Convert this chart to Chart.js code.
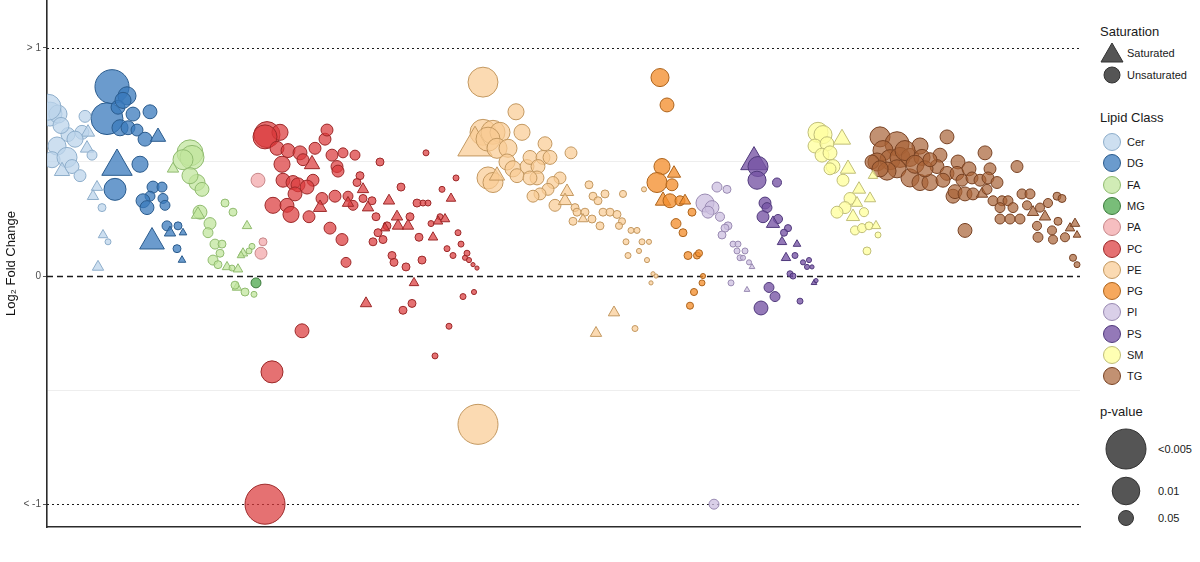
<!DOCTYPE html>
<html>
<head>
<meta charset="utf-8">
<script src="https://cdn.jsdelivr.net/npm/chart.js@4.4.1/dist/chart.umd.min.js"></script>
<style>
  html, body { margin: 0; padding: 0; background: #fff; }
  body { width: 1200px; height: 562px; position: relative; overflow: hidden; font-family: "Liberation Sans", Arial, sans-serif; color: #1a1a1a; }
  #wrap { position: absolute; left: 0; top: 0; width: 1090px; height: 562px; }
  #legend { position: absolute; left: 1090px; top: 0; width: 110px; height: 562px; }
  .lg-title { position: absolute; left: 10px; font-size: 13px; line-height: 16px; }
  .lg-item { position: absolute; left: 10px; height: 24px; display: flex; align-items: center; font-size: 11px; }
  .lg-item svg { display: block; }
</style>
</head>
<body>
<div id="wrap"><canvas id="lipidChart" width="1090" height="562"></canvas></div>
<div id="legend"></div>
<script>
// x = lipid position along the plot, y = log2 fold change, sig = -log10(p), sat = 1 for saturated
const classes = ["Cer", "DG", "FA", "MG", "PA", "PC", "PE", "PG", "PI", "PS", "SM", "TG"];

const cerX = [3, 11, 38, 21, 35, 41, 10, 5, 20, 25, 33, 15, 40, 45, 50, 46, 55, 56, 61, 51, 1, 28, 14];
const cerY = [0.71, 0.71, 0.70, 0.62, 0.63, 0.63, 0.57, 0.51, 0.52, 0.48, 0.44, 0.46, 0.56, 0.53, 0.39, 0.35, 0.30, 0.18, 0.15, 0.04, 0.74, 0.60, 0.66];
const cerSig = [1.8, 1.47, 1.13, 1.24, 1.24, 1.24, 1.47, 1.36, 1.58, 1.24, 1.13, 1.36, 1.24, 1.02, 1.13, 1.13, 0.91, 1.02, 0.8, 1.13, 1.91, 1.36, 1.36];
const cerSat = [0, 0, 0, 0, 0, 1, 0, 0, 0, 0, 0, 1, 1, 0, 1, 1, 0, 1, 0, 1, 0, 0, 0];

const dgX = [65, 60, 80, 71, 86, 103, 73, 81, 90, 98, 111, 70, 93, 68, 106, 115, 103, 96, 100, 116, 118, 120, 131, 123, 136, 105, 130, 135, 76];
const dgY = [0.83, 0.69, 0.79, 0.74, 0.71, 0.72, 0.65, 0.65, 0.64, 0.60, 0.61, 0.48, 0.49, 0.38, 0.39, 0.39, 0.35, 0.33, 0.30, 0.34, 0.31, 0.22, 0.22, 0.19, 0.19, 0.15, 0.12, 0.07, 0.77];
const dgSig = [2.36, 2.24, 1.47, 1.24, 1.24, 1.24, 1.36, 1.24, 1.13, 1.24, 1.36, 2.24, 1.36, 1.69, 1.13, 1.02, 1.02, 1.24, 1.24, 1.02, 1.02, 1.02, 0.91, 1.13, 0.91, 1.91, 0.91, 0.91, 1.36];
const dgSat = [0, 0, 0, 0, 0, 0, 0, 0, 0, 0, 1, 1, 0, 0, 0, 0, 0, 0, 0, 0, 0, 0, 0, 1, 1, 1, 0, 1, 0];

const faX = [143, 145, 136, 150, 155, 143, 126, 153, 151, 163, 161, 178, 186, 168, 175, 173, 166, 171, 180, 185, 191, 200, 196, 190, 198, 205, 202, 207, 194, 188];
const faY = [0.54, 0.52, 0.51, 0.41, 0.38, 0.44, 0.47, 0.28, 0.27, 0.23, 0.19, 0.32, 0.28, 0.14, 0.14, 0.10, 0.07, 0.05, 0.04, 0.035, 0.03, 0.22, 0.10, -0.05, -0.07, 0.13, 0.11, -0.08, 0.09, -0.04];
const faSig = [1.91, 1.8, 1.58, 1.36, 1.24, 1.36, 1.13, 1.24, 1.24, 1.13, 1.02, 0.91, 0.91, 1.02, 0.91, 0.91, 1.02, 0.91, 1.02, 0.8, 1.02, 1.02, 1.02, 1.02, 0.91, 0.8, 0.8, 0.8, 0.91, 0.91];
const faSat = [0, 0, 0, 0, 0, 0, 1, 0, 1, 0, 0, 0, 0, 0, 0, 0, 0, 0, 1, 0, 1, 1, 1, 1, 0, 0, 0, 0, 1, 0];

const mgX = [209];
const mgY = [-0.03];
const mgSig = [1.02];
const mgSat = [0];

const paX = [211, 216, 214];
const paY = [0.42, 0.15, 0.10];
const paSig = [1.24, 0.91, 1.13];
const paSat = [0, 0, 0];

const pcX = [220, 233, 218, 230, 241, 253, 265, 256, 235, 268,
  278, 280, 285, 296, 308, 290, 291, 236, 246, 251,
  266, 260, 248, 226, 240, 244, 262, 275, 273, 288,
  301, 306, 301, 313, 310, 316, 316, 325, 321, 329,
  333, 283, 295, 299, 342, 354, 370, 376, 381, 363,
  350, 351, 361, 340, 338, 331, 326, 336, 345, 347,
  359, 372, 375, 386, 384, 393, 398, 391, 404, 395,
  409, 379, 411, 414, 400, 406, 420, 418, 422, 426,
  430, 367, 319, 365, 356, 416, 427, 402, 388, 255,
  225, 218];
const pcY = [0.62, 0.63, 0.61, 0.56, 0.55, 0.54, 0.49, 0.51, 0.49, 0.56,
  0.60, 0.64, 0.53, 0.54, 0.53, 0.48, 0.46, 0.42, 0.41, 0.40,
  0.42, 0.39, 0.36, 0.31, 0.31, 0.27, 0.26, 0.34, 0.30, 0.35,
  0.35, 0.31, 0.32, 0.44, 0.41, 0.38, 0.34, 0.33, 0.30, 0.26,
  0.50, 0.21, 0.16, 0.06, 0.33, 0.39, 0.32, 0.32, 0.32, 0.26,
  0.26, 0.22, 0.22, 0.22, 0.21, 0.19, 0.15, 0.16, 0.09, 0.06,
  0.04, 0.17, 0.07, 0.17, 0.23, 0.26, 0.25, 0.24, 0.34, 0.38,
  0.43, 0.54, 0.19, 0.14, 0.12, 0.09, 0.10, 0.08, 0.07, 0.05,
  0.035, -0.03, -0.12, -0.12, -0.15, -0.09, -0.07, -0.22, -0.35, -0.24,
  -0.42, -1.0];
const pcSig = [1.91, 1.36, 1.8, 1.24, 1.24, 1.24, 1.36, 1.13, 1.36, 1.13,
  1.13, 1.13, 1.13, 1.02, 1.02, 1.13, 1.13, 1.24, 1.24, 1.24,
  1.13, 1.24, 1.24, 1.36, 1.24, 1.36, 1.13, 1.13, 1.24, 1.13,
  1.02, 1.02, 1.13, 0.91, 0.91, 1.13, 0.91, 0.91, 1.13, 0.91,
  0.91, 1.13, 1.13, 1.02, 1.13, 0.91, 0.91, 0.8, 0.8, 0.91,
  1.13, 1.13, 1.13, 0.91, 1.02, 0.91, 0.91, 0.91, 0.91, 0.91,
  0.91, 0.91, 0.91, 1.02, 0.8, 0.8, 1.02, 1.02, 1.02, 0.8,
  0.8, 0.8, 0.8, 0.8, 0.8, 0.8, 0.8, 0.75, 0.75, 0.7,
  0.7, 1.02, 1.13, 0.91, 0.91, 0.8, 0.75, 0.8, 0.8, 1.24,
  1.69, 2.69];
const pcSat = [0, 0, 0, 0, 0, 0, 1, 0, 0, 0,
  0, 0, 0, 0, 0, 0, 0, 0, 0, 0,
  0, 0, 0, 0, 0, 0, 0, 0, 1, 0,
  0, 0, 1, 0, 0, 1, 0, 0, 1, 0,
  0, 0, 0, 0, 1, 0, 0, 0, 0, 0,
  1, 1, 1, 0, 1, 0, 0, 0, 0, 0,
  0, 0, 0, 1, 0, 0, 1, 1, 1, 0,
  0, 0, 0, 0, 0, 0, 0, 0, 0, 0,
  0, 1, 1, 0, 0, 0, 0, 0, 0, 0,
  0, 0];

const peX = [436, 469, 436, 446, 453, 475, 428, 441, 450, 461,
  460, 466, 470, 480, 483, 498, 496, 503, 491, 490,
  483, 441, 446, 450, 524, 513, 506, 501, 493, 486,
  508, 520, 518, 528, 530, 538, 536, 545, 526, 553,
  542, 546, 551, 558, 556, 563, 570, 575, 572, 576,
  584, 590, 579, 581, 595, 592, 602, 600, 597, 606,
  609, 604, 567, 549, 588, 431];
const peY = [0.85, 0.72, 0.63, 0.63, 0.63, 0.63, 0.57, 0.60, 0.56, 0.56,
  0.50, 0.47, 0.44, 0.48, 0.52, 0.58, 0.52, 0.52, 0.48, 0.43,
  0.43, 0.43, 0.41, 0.44, 0.54, 0.43, 0.41, 0.38, 0.36, 0.35,
  0.31, 0.37, 0.33, 0.30, 0.28, 0.28, 0.25, 0.25, 0.24, 0.22,
  0.40, 0.35, 0.33, 0.36, 0.28, 0.28, 0.27, 0.24, 0.22, 0.36,
  0.20, 0.20, 0.15, 0.09, 0.15, 0.11, 0.15, 0.07, 0.38, 0.01,
  0.0, -0.03, -0.16, -0.25, -0.23, -0.65];
const peSig = [2.13, 1.36, 1.91, 1.8, 1.58, 1.36, 2.47, 1.8, 1.58, 1.47,
  1.36, 1.36, 1.24, 1.24, 1.24, 1.24, 1.24, 1.24, 1.24, 1.24,
  1.24, 1.69, 1.58, 1.36, 1.13, 1.13, 1.13, 1.13, 1.13, 1.13,
  1.13, 1.24, 1.24, 0.91, 0.91, 0.91, 1.02, 0.91, 0.91, 0.91,
  0.91, 0.91, 0.91, 0.91, 0.91, 0.91, 0.91, 0.86, 0.86, 0.86,
  0.8, 0.8, 0.8, 0.8, 0.8, 0.75, 0.75, 0.75, 0.75, 0.7,
  0.7, 0.7, 1.13, 1.13, 0.8, 2.69];
const peSat = [0, 0, 0, 0, 0, 0, 1, 0, 0, 0,
  0, 0, 0, 0, 0, 0, 0, 0, 0, 0,
  0, 0, 0, 1, 0, 0, 0, 0, 0, 0,
  0, 1, 1, 0, 0, 0, 1, 0, 0, 0,
  0, 0, 0, 0, 0, 0, 0, 0, 0, 0,
  0, 0, 0, 0, 0, 0, 0, 0, 0, 0,
  0, 0, 1, 1, 0, 0];

const pgX = [613, 620, 615, 610, 625, 627, 616, 623, 633, 638, 645, 629, 636, 641, 650, 652, 655, 656, 647, 643];
const pgY = [0.87, 0.75, 0.48, 0.41, 0.40, 0.45, 0.33, 0.33, 0.33, 0.33, 0.28, 0.23, 0.19, 0.09, 0.09, 0.10, -0.03, 0.0, -0.07, -0.13];
const pgSig = [1.47, 1.24, 1.36, 1.58, 1.13, 1.24, 1.36, 1.24, 1.02, 1.13, 0.91, 1.02, 0.91, 0.91, 0.86, 0.86, 0.8, 0.75, 0.86, 0.86];
const pgSat = [0, 0, 0, 0, 0, 1, 1, 0, 0, 1, 0, 0, 0, 0, 0, 0, 0, 0, 0, 0];

const piX = [658, 665, 661, 670, 680, 673, 681, 678, 675, 686, 691, 690, 698, 693, 696, 702, 705, 684, 700, 667];
const piY = [0.32, 0.30, 0.28, 0.39, 0.38, 0.26, 0.22, 0.21, 0.18, 0.14, 0.14, 0.11, 0.11, 0.08, 0.08, 0.06, 0.04, -0.03, -0.06, -1.0];
const piSig = [1.47, 1.24, 1.13, 1.02, 0.91, 0.97, 0.91, 0.91, 0.91, 0.8, 0.8, 0.8, 0.8, 0.8, 0.75, 0.75, 0.8, 0.8, 0.8, 1.02];
const piSat = [0, 0, 0, 0, 0, 0, 0, 0, 0, 0, 0, 0, 0, 0, 0, 0, 1, 0, 1, 0];

const psX = [707, 711, 710, 730, 718, 720, 716, 731, 726, 741, 737, 735, 750, 739, 748, 756, 760, 765, 762, 743, 746, 767, 769, 722, 728, 714, 753];
const psY = [0.50, 0.48, 0.42, 0.41, 0.32, 0.30, 0.26, 0.25, 0.23, 0.21, 0.19, 0.15, 0.14, 0.08, 0.09, 0.06, 0.04, 0.04, 0.07, 0.01, 0.0, -0.03, -0.02, -0.05, -0.09, -0.14, -0.11];
const psSig = [2.02, 1.58, 1.47, 0.97, 1.13, 1.02, 1.13, 0.97, 1.24, 0.86, 0.86, 1.02, 0.91, 1.02, 0.8, 0.75, 0.75, 0.7, 0.75, 0.8, 0.8, 0.8, 0.7, 1.02, 1.02, 1.24, 0.8];
const psSat = [1, 0, 0, 0, 0, 0, 0, 0, 1, 0, 0, 1, 1, 1, 0, 0, 0, 0, 0, 0, 0, 1, 0, 0, 0, 0, 0];

const smX = [771, 776, 768, 780, 795, 775, 783, 786, 783, 796, 801, 826, 812, 823, 803, 798, 790, 810, 806, 817, 808, 815, 822, 829, 831, 820];
const smY = [0.63, 0.62, 0.57, 0.58, 0.60, 0.53, 0.54, 0.48, 0.47, 0.42, 0.47, 0.44, 0.38, 0.34, 0.34, 0.30, 0.28, 0.32, 0.26, 0.28, 0.20, 0.21, 0.22, 0.22, 0.18, 0.11];
const smSig = [1.58, 1.47, 1.24, 1.24, 1.47, 1.24, 1.24, 1.24, 1.13, 1.13, 1.36, 1.02, 1.24, 1.13, 1.13, 1.13, 1.13, 1.13, 1.24, 0.97, 0.97, 0.97, 0.91, 1.02, 0.8, 0.91];
const smSat = [0, 0, 0, 0, 1, 0, 0, 0, 0, 0, 1, 1, 1, 1, 0, 0, 0, 1, 1, 0, 0, 0, 0, 1, 0, 0];

const tgX = [833, 900, 850, 836, 843, 853, 863, 873, 875, 830,
  850, 840, 863, 873, 883, 893, 890, 900, 896, 911,
  910, 938, 922, 915, 925, 933, 943, 941, 950, 970,
  906, 908, 918, 926, 935, 940, 946, 955, 961, 953,
  966, 953, 963, 973, 975, 983, 980, 986, 998, 993,
  1001, 1010, 1015, 1011, 990, 991, 1005, 1006, 1018, 1023,
  1028, 1030, 918, 1026, 1030, 825, 858, 868, 878, 883,
  833];
const tgY = [0.61, 0.61, 0.58, 0.55, 0.51, 0.52, 0.52, 0.57, 0.52, 0.50,
  0.47, 0.46, 0.43, 0.41, 0.41, 0.53, 0.48, 0.45, 0.42, 0.50,
  0.45, 0.54, 0.47, 0.42, 0.43, 0.42, 0.47, 0.43, 0.41, 0.48,
  0.35, 0.37, 0.36, 0.36, 0.36, 0.38, 0.33, 0.33, 0.33, 0.30,
  0.30, 0.25, 0.25, 0.25, 0.36, 0.36, 0.31, 0.28, 0.26, 0.30,
  0.32, 0.35, 0.34, 0.24, 0.22, 0.17, 0.20, 0.16, 0.17, 0.21,
  0.23, 0.18, 0.20, 0.08, 0.05, 0.50, 0.55, 0.49, 0.47, 0.51,
  0.47];
const tgSig = [1.58, 1.24, 1.8, 1.58, 1.58, 1.58, 1.47, 1.36, 1.36, 1.47,
  1.47, 1.47, 1.47, 1.36, 1.36, 1.24, 1.24, 1.24, 1.24, 1.24,
  1.24, 1.24, 1.24, 1.13, 1.13, 1.13, 1.13, 1.13, 1.13, 1.13,
  1.24, 1.24, 1.24, 1.13, 1.13, 1.02, 1.02, 1.02, 1.02, 1.02,
  1.02, 1.02, 1.02, 1.02, 1.02, 1.02, 0.97, 1.13, 1.13, 0.97,
  0.97, 0.91, 0.91, 0.91, 0.97, 1.02, 0.97, 0.97, 0.97, 1.02,
  1.02, 0.91, 1.24, 0.86, 0.8, 1.24, 1.58, 1.47, 1.36, 1.24,
  1.36];
const tgSat = [0, 0, 0, 0, 0, 0, 0, 0, 0, 0,
  0, 0, 0, 0, 0, 0, 0, 0, 0, 0,
  0, 0, 0, 0, 0, 0, 0, 0, 0, 0,
  0, 0, 0, 0, 1, 0, 0, 0, 0, 0,
  0, 0, 0, 0, 0, 0, 0, 1, 1, 0,
  0, 0, 0, 0, 0, 0, 0, 0, 0, 1,
  1, 1, 0, 0, 0, 0, 0, 0, 0, 0,
  0];

const yTicks = [-1, -0.5, 0, 0.5, 1];
const yTickLabels = ["< -1", "", "0", "", "> 1"];
const pLegendValues = [0.005, 0.01, 0.05];
const pLegendLabels = ["<0.005", "0.01", "0.05"];

// styling
const palette = {
  Cer: ["rgba(188,212,235,0.75)", "#8eaecb"],
  DG:  ["rgba(58,122,188,0.75)", "#2a5b8d"],
  FA:  ["rgba(194,229,158,0.75)", "#90bb6f"],
  MG:  ["rgba(88,172,88,0.8)", "#3b7a3b"],
  PA:  ["rgba(244,174,176,0.8)", "#c78789"],
  PC:  ["rgba(219,58,60,0.72)", "#9c2828"],
  PE:  ["rgba(250,204,148,0.72)", "#c39860"],
  PG:  ["rgba(244,143,48,0.78)", "#ad631b"],
  PI:  ["rgba(204,191,224,0.75)", "#998ab2"],
  PS:  ["rgba(118,83,164,0.78)", "#50397c"],
  SM:  ["rgba(255,255,160,0.8)", "#c0be78"],
  TG:  ["rgba(168,98,54,0.7)", "#784223"]
};
const series = {
  Cer: [cerX, cerY, cerSig, cerSat], DG: [dgX, dgY, dgSig, dgSat], FA: [faX, faY, faSig, faSat],
  MG: [mgX, mgY, mgSig, mgSat], PA: [paX, paY, paSig, paSat], PC: [pcX, pcY, pcSig, pcSat],
  PE: [peX, peY, peSig, peSat], PG: [pgX, pgY, pgSig, pgSat], PI: [piX, piY, piSig, piSat],
  PS: [psX, psY, psSig, psSat], SM: [smX, smY, smSig, smSat], TG: [tgX, tgY, tgSig, tgSat]
};

function sizeFor(sig) {
  return Math.max(2, 9 * sig - 4.2);
}

const datasets = classes.map(name => {
  const [xs, ys, sigs, sats] = series[name];
  return {
    label: name,
    data: xs.map((x, i) => ({ x: x, y: ys[i], r: sizeFor(sigs[i]) * (sats[i] ? 1.1 : 1) })),
    pointStyle: ctx => (sats[ctx.dataIndex] ? "triangle" : "circle"),
    backgroundColor: palette[name][0],
    borderColor: palette[name][1],
    borderWidth: 1,
    clip: { left: 0, top: 30, right: 30, bottom: 30 }
  };
});

const refLines = {
  id: "refLines",
  beforeDatasetsDraw(chart) {
    const { ctx, chartArea, scales } = chart;
    const lines = [[1, [2, 3], 1.2], [-1, [2, 3], 1.2], [0, [6, 4], 1.5]];
    ctx.save();
    ctx.strokeStyle = "#1a1a1a";
    lines.forEach(([v, dash, w]) => {
      const py = Math.round(scales.y.getPixelForValue(v)) + 0.5;
      ctx.setLineDash(dash);
      ctx.lineWidth = w;
      ctx.beginPath();
      ctx.moveTo(chartArea.left, py);
      ctx.lineTo(chartArea.right, py);
      ctx.stroke();
    });
    ctx.restore();
  }
};

Chart.defaults.font.family = '"Liberation Sans", Arial, sans-serif';

const labelled = c => c.tick && yTickLabels[yTicks.indexOf(c.tick.value)] !== "";

new Chart(document.getElementById("lipidChart").getContext("2d"), {
  type: "bubble",
  data: { datasets: datasets },
  options: {
    responsive: false,
    animation: false,
    events: [],
    layout: { autoPadding: false, padding: { top: 0, right: 10, bottom: 0, left: 0 } },
    plugins: { legend: { display: false }, tooltip: { enabled: false } },
    scales: {
      x: {
        type: "linear", min: 0, max: 1033,
        ticks: { display: false },
        grid: { display: false },
        border: { color: "#2b2b2b", width: 1.6 },
        afterFit(scale) { scale.height = 35; }
      },
      y: {
        min: -1.1, max: 1.21,
        afterBuildTicks(scale) { scale.ticks = yTicks.map(v => ({ value: v })); },
        ticks: {
          callback: (value) => yTickLabels[yTicks.indexOf(value)],
          color: "#4d4d4d", font: { size: 10 }, padding: 2
        },
        grid: {
          drawTicks: true,
          tickLength: 4,
          tickWidth: 1,
          tickColor: c => (labelled(c) ? "#555555" : "rgba(0,0,0,0)"),
          color: c => (c.tick && Math.abs(c.tick.value) === 0.5 ? "#eeeeee" : "rgba(0,0,0,0)")
        },
        border: { color: "#2b2b2b", width: 1.6 },
        title: { display: true, text: "Log₂ Fold Change", color: "#111", font: { size: 13 }, padding: { top: 4, bottom: 0 } },
        afterFit(scale) {
          scale.width = 47;
          scale.paddingTop = 0;
          scale.paddingBottom = 0;
        }
      }
    }
  },
  plugins: [refLines]
});

// legend (HTML, right side)
const legend = document.getElementById("legend");
function addTitle(text, cy) {
  const d = document.createElement("div");
  d.className = "lg-title";
  d.style.top = (cy - 8) + "px";
  d.textContent = text;
  legend.appendChild(d);
}
function addItem(svg, text, cy, gap, left) {
  const d = document.createElement("div");
  d.className = "lg-item";
  d.style.top = (cy - 12) + "px";
  d.style.left = left + "px";
  d.innerHTML = svg + '<span style="margin-left:' + gap + 'px">' + text + "</span>";
  legend.appendChild(d);
}
addTitle("Saturation", 32);
addItem('<svg width="24" height="24"><polygon points="12,2 23,21 1,21" fill="#555" stroke="#333" stroke-width="1"/></svg>', "Saturated", 53, 3, 10);
addItem('<svg width="24" height="24"><circle cx="12" cy="12" r="8" fill="#555" stroke="#333" stroke-width="1"/></svg>', "Unsaturated", 75, 3, 10);
addTitle("Lipid Class", 118);
classes.forEach((name, i) => {
  addItem('<svg width="24" height="24"><circle cx="12" cy="12" r="8.5" fill="' + palette[name][0] + '" stroke="' + palette[name][1] + '" stroke-width="1"/></svg>', name, 142 + i * 21.3, 3, 10);
});
addTitle("p-value", 412);
const pRows = [449, 491, 518];
pLegendValues.forEach((p, i) => {
  const r = sizeFor(-Math.log10(p)) + (i === 0 ? 3.5 : 0);
  addItem('<svg width="44" height="44" style="margin:-10px 0"><circle cx="22" cy="22" r="' + r.toFixed(1) + '" fill="#555" stroke="#333" stroke-width="1"/></svg>', pLegendLabels[i], pRows[i], 10, 14);
});
</script>
</body>
</html>
